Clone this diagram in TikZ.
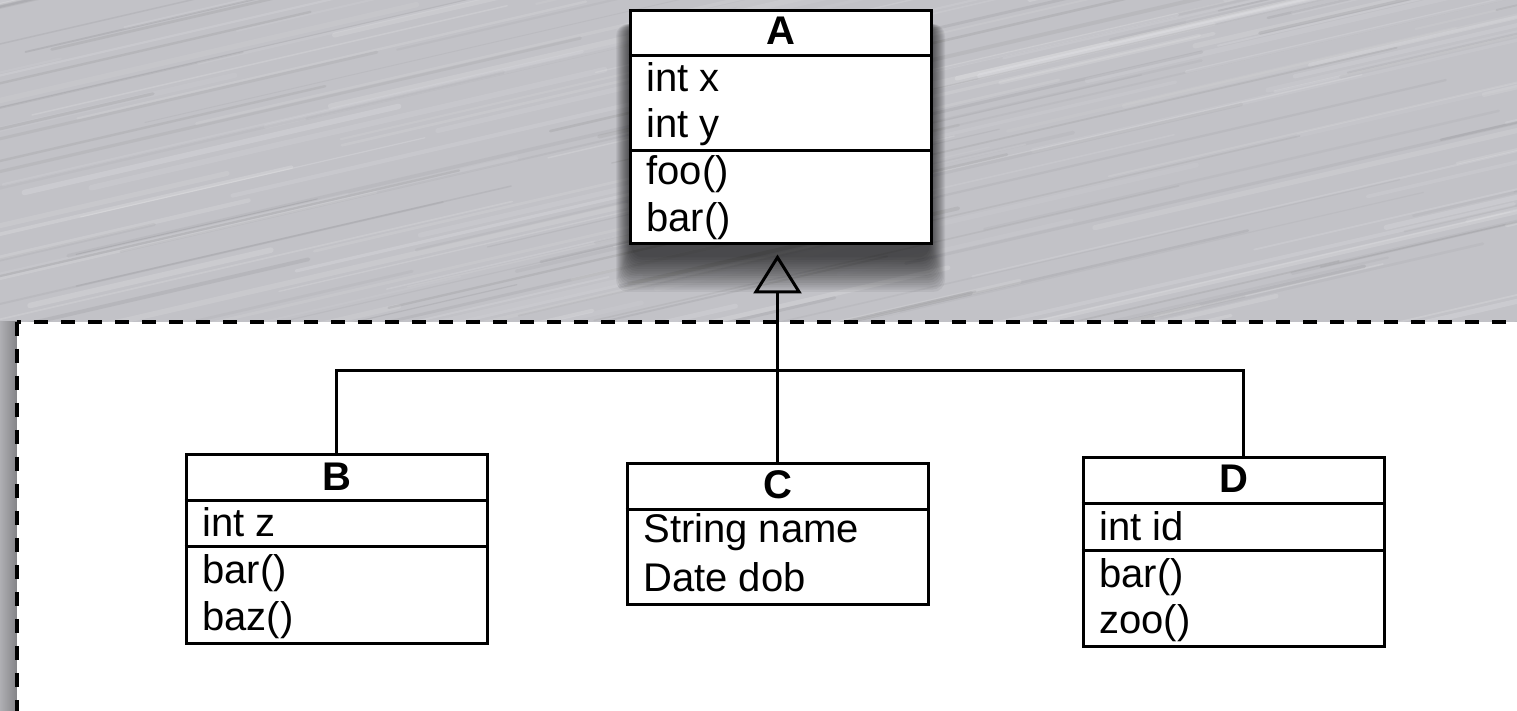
\documentclass[tikz,border=0pt]{standalone}
\usepackage{fontspec}
\setmainfont{Liberation Sans}
\usetikzlibrary{arrows.meta,fit}
\definecolor{metal}{RGB}{194,194,199}
\tikzset{
  cls/.style={draw=black, line width=1.5pt, fill=white, inner sep=0pt},
  sepline/.style={line width=1.5pt},
  member/.style={anchor=base west, inner sep=0pt, font=\fontsize{20pt}{24pt}\selectfont},
  ctitle/.style={anchor=base, inner sep=0pt, font=\fontsize{20pt}{24pt}\selectfont\bfseries},
  link/.style={line width=1.5pt},
  frame/.style={draw=black, fill=white, line width=1.75pt, dash pattern=on 7pt off 6.5pt},
  softshadow/.style={fill=black, opacity=0.055, rounded corners=6pt},
}
\begin{document}
\begin{tikzpicture}[x=0.5pt,y=-0.5pt]
\useasboundingbox (0,0) rectangle (1517,711);

% brushed metal backdrop
\fill[metal] (0,0) rectangle (1517,711);
\pgfmathsetseed{1234}
\begin{scope}
  \clip (0,0) rectangle (1517,711);
  \foreach \i in {1,...,320}{
    \pgfmathsetmacro{\xa}{rnd*1900-350}
    \pgfmathsetmacro{\ya}{rnd*1100}
    \pgfmathsetmacro{\len}{200+rnd*600}
    \pgfmathsetmacro{\op}{0.05+0.12*rnd}
    \pgfmathsetmacro{\lw}{0.6+2.2*rnd}
    \draw[white, line width=\lw pt, opacity=\op, line cap=round] (\xa,\ya) -- ++(\len,-0.23*\len);
  }
  \foreach \i in {1,...,260}{
    \pgfmathsetmacro{\xa}{rnd*1900-350}
    \pgfmathsetmacro{\ya}{rnd*1100}
    \pgfmathsetmacro{\len}{200+rnd*600}
    \pgfmathsetmacro{\op}{0.03+0.07*rnd}
    \pgfmathsetmacro{\lw}{0.5+1.5*rnd}
    \draw[black!80, line width=\lw pt, opacity=\op, line cap=round] (\xa,\ya) -- ++(\len,-0.23*\len);
  }
\end{scope}

% package frame with its shadow on the left
\shade[left color=metal!90!black, right color=metal!68!black] (0,322) rectangle (17,711);
\draw[frame] (17,322) rectangle (1545,740);

% soft drop shadow under class A
\foreach \i in {0,...,15}{
  \fill[softshadow] (616+\i,24) rectangle (945-\i,292-2.3*\i);
}

% class A
\node[cls, fit={(630,11) (931,244)}] (A) {};
\draw[sepline] ([yshift=-23pt]A.north west) -- ([yshift=-23pt]A.north east);
\draw[sepline] ([yshift=-70.5pt]A.north west) -- ([yshift=-70.5pt]A.north east);
\node[ctitle] (aT) at (780.5,45) {A};
\node[member] (a1) at (646,92) {int x};
\node[member] (a2) at (646,138) {int y};
\node[member] (a3) at (646,185) {foo()};
\node[member] (a4) at (646,232) {bar()};

% class B
\node[cls, fit={(186,455) (487,643)}] (B) {};
\draw[sepline] ([yshift=-23.5pt]B.north west) -- ([yshift=-23.5pt]B.north east);
\draw[sepline] ([yshift=-46.5pt]B.north west) -- ([yshift=-46.5pt]B.north east);
\node[ctitle] (bT) at (336.5,490) {B};
\node[member] (b1) at (202,537) {int z};
\node[member] (b2) at (202,583) {bar()};
\node[member] (b3) at (202,630) {baz()};

% class C
\node[cls, fit={(627,464) (928,604)}] (C) {};
\draw[sepline] ([yshift=-23.5pt]C.north west) -- ([yshift=-23.5pt]C.north east);
\node[ctitle] (cT) at (777.5,498) {C};
\node[member] (c1) at (643,543) {String name};
\node[member] (c2) at (643,591) {Date dob};

% class D
\node[cls, fit={(1083,458) (1384,646)}] (D) {};
\draw[sepline] ([yshift=-23.5pt]D.north west) -- ([yshift=-23.5pt]D.north east);
\draw[sepline] ([yshift=-47pt]D.north west) -- ([yshift=-47pt]D.north east);
\node[ctitle] (dT) at (1233.5,493) {D};
\node[member] (d1) at (1099,540) {int id};
\node[member] (d2) at (1099,587) {bar()};
\node[member] (d3) at (1099,633) {zoo()};

% generalisation
\draw[link, -{Triangle[open, length=19.5pt, width=24pt]}, shorten >=4.5pt]
  (C.north) -- (C.north |- A.south);
\coordinate (bus) at (777.5,371);
\draw[link] (B.north) |- (bus) -| ([xshift=4.75pt]D.north);
\end{tikzpicture}
\end{document}
